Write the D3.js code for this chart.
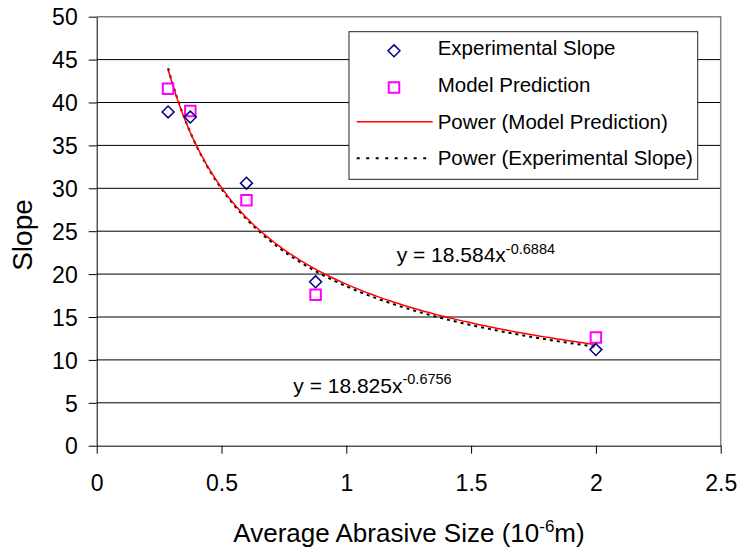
<!DOCTYPE html>
<html>
<head>
<meta charset="utf-8">
<script src="https://cdn.jsdelivr.net/npm/d3@7"></script>
<style>
  body { margin: 0; background: white; }
  text { font-family: "Liberation Sans", Arial, sans-serif; fill: #000; }
</style>
</head>
<body>
<svg id="chart" width="740" height="554"></svg>
<script>
// data
var abrasiveSize = [0.286, 0.375, 0.6, 0.877, 2.0];
var expSlope = [38.9, 38.3, 30.6, 19.1, 11.2];
var modelPred = [41.6, 39.0, 28.6, 17.6, 12.6];
// power trendline coefficients, y = a * x^b
var modelFit = [18.825, -0.6756];
var expFit = [18.584, -0.6884];
var xTicks = [0, 0.5, 1, 1.5, 2, 2.5];
var yTicks = [0, 5, 10, 15, 20, 25, 30, 35, 40, 45, 50];

var svg = d3.select("#chart");
var x = d3.scaleLinear().domain([0, 2.5]).range([96.7, 720.7]);
var y = d3.scaleLinear().domain([0, 50]).range([445.7, 16.7]);

// gridlines
svg.append("g").selectAll("line")
    .data(yTicks.filter(d => d > 0 && d < 50))
    .enter().append("line")
    .attr("x1", x(0)).attr("x2", x(2.5))
    .attr("y1", d => y(d)).attr("y2", d => y(d))
    .attr("stroke", "#000").attr("stroke-width", 1);

// plot border top/right
svg.append("path")
    .attr("d", "M" + x(0) + "," + y(50) + "H" + x(2.5) + "V" + y(0))
    .attr("fill", "none").attr("stroke", "#808080").attr("stroke-width", 1.5);

// axes
var xAxis = d3.axisBottom(x).tickValues(xTicks).tickSize(8).tickFormat(d3.format("")).tickSizeOuter(0);
var yAxis = d3.axisLeft(y).tickValues(yTicks).tickSize(8).tickFormat(d3.format("")).tickSizeOuter(0);

var gx = svg.append("g").attr("transform", "translate(0," + y(0) + ")").call(xAxis);
gx.select(".domain").attr("stroke", "#000");
gx.selectAll(".tick line").attr("stroke", "#000");
gx.selectAll(".tick text")
    .attr("y", 45).attr("dy", null)
    .style("font-size", "23px").style("font-family", "Liberation Sans, Arial, sans-serif");

var gy = svg.append("g").attr("transform", "translate(" + x(0) + ",0)").call(yAxis);
gy.select(".domain").attr("stroke", "#000");
gy.selectAll(".tick line").attr("stroke", "#000");
gy.selectAll(".tick text")
    .attr("x", -19).attr("dy", "0.36em")
    .style("font-size", "23px").style("font-family", "Liberation Sans, Arial, sans-serif");

// trendlines
function powerCurve(fit) {
    var lo = d3.min(abrasiveSize), hi = d3.max(abrasiveSize);
    return d3.range(0, 101).map(i => {
        var xv = lo + (hi - lo) * i / 100;
        return [xv, fit[0] * Math.pow(xv, fit[1])];
    });
}
var line = d3.line().x(d => x(d[0])).y(d => y(d[1]));

svg.append("path")
    .attr("d", line(powerCurve(expFit)))
    .attr("fill", "none").attr("stroke", "#000").attr("stroke-width", 2)
    .attr("stroke-dasharray", "3,4");
svg.append("path")
    .attr("d", line(powerCurve(modelFit)))
    .attr("fill", "none").attr("stroke", "#ff0000").attr("stroke-width", 1.5);

// markers
var diamond = d3.symbol().type(d3.symbolDiamond2).size(90);
var square = d3.symbol().type(d3.symbolSquare2).size(140);

svg.append("g").selectAll("path")
    .data(abrasiveSize)
    .enter().append("path")
    .attr("d", square)
    .attr("transform", (d, i) => "translate(" + x(d) + "," + y(modelPred[i]) + ")")
    .attr("fill", "none").attr("stroke", "#ff00ff").attr("stroke-width", 2);

svg.append("g").selectAll("path")
    .data(abrasiveSize)
    .enter().append("path")
    .attr("d", diamond)
    .attr("transform", (d, i) => "translate(" + x(d) + "," + y(expSlope[i]) + ")")
    .attr("fill", "none").attr("stroke", "#000080").attr("stroke-width", 1.5);

// trendline equations
function equation(xp, yp, a, b, dySup) {
    var t = svg.append("text").attr("x", xp).attr("y", yp).style("font-size", "21px");
    t.append("tspan").text("y = " + a + "x");
    t.append("tspan").attr("dy", dySup).style("font-size", "14.5px").text(b);
}
equation(396.7, 261.7, expFit[0], expFit[1], -8);
equation(293.3, 393.3, modelFit[0], modelFit[1], -9);

// legend
var legend = svg.append("g");
legend.append("rect")
    .attr("x", 349).attr("y", 31.7).attr("width", 348.7).attr("height", 147.6)
    .attr("fill", "white").attr("stroke", "#222").attr("stroke-width", 1);
var legendItems = ["Experimental Slope", "Model Prediction", "Power (Model Prediction)", "Power (Experimental Slope)"];
var rowY = [48.3, 85, 121.7, 158.3];
legend.selectAll("text.leg")
    .data(legendItems)
    .enter().append("text")
    .attr("class", "leg")
    .attr("x", 437.7).attr("y", (d, i) => rowY[i] + 7)
    .style("font-size", "20.5px")
    .text(d => d);
legend.append("path").attr("d", diamond)
    .attr("transform", "translate(394," + (rowY[0] + 2.5) + ")")
    .attr("fill", "none").attr("stroke", "#000080").attr("stroke-width", 1.5);
legend.append("path").attr("d", square)
    .attr("transform", "translate(394," + (rowY[1] + 2.5) + ")")
    .attr("fill", "none").attr("stroke", "#ff00ff").attr("stroke-width", 2);
legend.append("line")
    .attr("x1", 356.7).attr("x2", 432.7).attr("y1", rowY[2]).attr("y2", rowY[2])
    .attr("stroke", "#ff0000").attr("stroke-width", 1.5);
legend.append("line")
    .attr("x1", 356.7).attr("x2", 430).attr("y1", rowY[3]).attr("y2", rowY[3])
    .attr("stroke", "#000").attr("stroke-width", 2).attr("stroke-dasharray", "3,6.5");

// axis titles
var xt = svg.append("text")
    .attr("x", 409).attr("y", 541.7).attr("text-anchor", "middle")
    .style("font-size", "26px");
xt.append("tspan").text("Average Abrasive Size (10");
xt.append("tspan").attr("dy", -10).style("font-size", "17px").text("-6");
xt.append("tspan").attr("dy", 10).text("m)");

svg.append("text")
    .attr("transform", "translate(32,235) rotate(-90)")
    .attr("text-anchor", "middle")
    .style("font-size", "28px")
    .text("Slope");
</script>
</body>
</html>
